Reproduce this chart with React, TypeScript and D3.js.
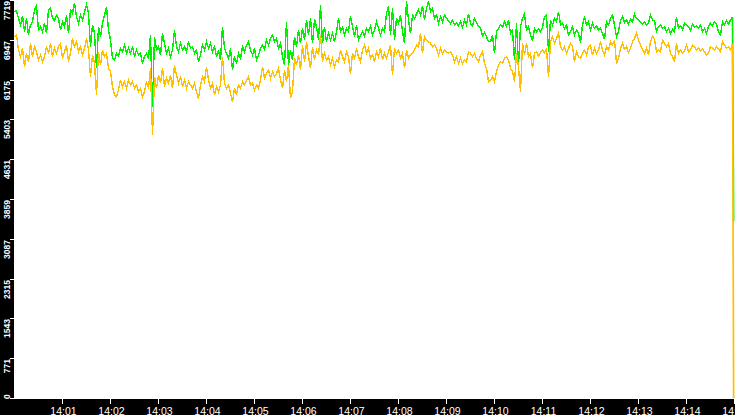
import { useEffect, useRef } from 'react';
import * as d3 from 'd3';

const WIDTH = 735;
const HEIGHT = 415;

// value axis tick labels (max / 10 steps, floored)
const yTickValues = [0, 771, 1543, 2315, 3087, 3859, 4631, 5403, 6175, 6947, 7719];
const yMax = 7719;

// minute labels along the bottom
const minuteLabels = [
    '14:01', '14:02', '14:03', '14:04', '14:05', '14:06', '14:07', '14:08',
    '14:09', '14:10', '14:11', '14:12', '14:13', '14:14', '14:15',
];

// sampling: one value every 2.5 s from 14:00:00, then one closing sample
const sampleStepMs = 2500;
const lastSampleMs = 898900;

const greenSeries = [
    7493, 7512, 7363, 7234, 7409, 7105, 7363, 7040, 7234, 7299,
    7525, 7603, 7137, 7202, 7105, 7266, 7072, 7525, 7557, 7363,
    7318, 7428, 7363, 7137, 7299, 7202, 7428, 7072, 7525, 7460,
    7667, 7396, 7266, 7428, 7331, 7493, 7628, 7460, 6814, 7234,
    7072, 6393, 7202, 7008, 7266, 7428, 7590, 7137, 6943, 6587,
    6555, 6684, 6633, 6781, 6717, 6846, 6684, 6781, 6684, 6814,
    6620, 6749, 6652, 6684, 6490, 6620, 6684, 6587, 7040, 5650,
    7008, 6749, 6814, 6652, 7072, 6878, 6684, 6781, 6620, 6749,
    7137, 6814, 6717, 6878, 6749, 6814, 6717, 6911, 6781, 6814,
    6684, 6749, 6523, 6652, 6846, 6749, 6911, 6781, 6878, 6717,
    6814, 6620, 6749, 6555, 7202, 6781, 6684, 6587, 6781, 6361,
    6620, 6490, 6684, 6587, 6814, 6717, 6846, 6911,
    6749, 6652, 6781, 6555, 6652, 6781, 6846, 6762, 6943, 6846,
    6975, 7040, 6911, 6975, 6781, 6878, 6620, 6458, 7299, 6458,
    6749, 6555, 7008, 6814, 7137, 6878, 7169, 6943, 7331, 7040,
    7363, 6878, 7344, 7202, 6943, 7622, 6878, 7202, 6911, 7072,
    6943, 7072, 6911, 7105, 7363, 7105, 7189, 7040, 7169, 7105,
    7409, 7202, 7008, 7234, 6943, 7040, 7105, 7021, 7169, 7105,
    7215, 7040, 7137, 7299, 7169, 7040, 7169, 7105, 7460, 7603,
    7040, 7557, 6943, 7363, 7266, 7428, 7105, 6878, 7700, 7331,
    7072, 7428, 7363, 7447, 7525, 7428, 7603, 7331, 7557, 7687,
    7493, 7557, 7363, 7428, 7266, 7396, 7299, 7428, 7363, 7318,
    7266, 7331, 7234, 7279, 7215, 7299, 7189, 7331, 7234, 7447,
    7266, 7215, 7363, 7279, 7215, 7169, 7021, 7085, 7008, 6911,
    6911, 7040, 6684, 7105, 7169, 7234, 7189, 7299, 7215, 7331,
    7072, 7137, 6555, 7266, 6458, 7202, 7363, 7447, 7137, 7202,
    7040, 6930, 7169, 7105, 7150, 7105, 7189, 7396, 7428, 6717,
    7331, 7234, 7363, 7299, 7493, 7234, 7266, 7169, 7234, 7040,
    7105, 7202, 7040, 7137, 7072, 6891, 7234, 7396, 7234, 7299,
    7137, 7266, 7169, 7215, 7137, 7169, 7072, 6956, 7299, 7234,
    7363, 7428, 7234, 7008, 7105, 7331, 7396, 7279, 7331, 7253,
    7344, 7299, 7447, 7363, 7331, 7299, 7253, 7299, 7234, 7266,
    7428, 7331, 7318, 7105, 7202, 7234, 7169, 7202, 7105, 7169,
    7072, 7150, 7105, 7383, 7169, 7215, 7150, 7266, 7234, 7202,
    7124, 7253, 7189, 7215, 7169, 7234, 7105, 7169, 7072, 7215,
    7266, 7215, 7299, 7253, 7105, 7040, 7299, 7234, 7318, 7253,
    7331, 7383,
    3430,
];

const yellowSeries = [
    7008, 7040, 6749, 6620, 6781, 6426, 6684, 6523, 6878, 6620,
    6814, 6717, 6555, 6652, 6523, 6620, 6814, 6684, 6878, 6620,
    6781, 6684, 6814, 6878, 6587, 6717, 6846, 6523, 6684, 6975,
    6814, 6911, 6717, 6814, 6652, 6781, 6975, 6749, 6232, 6652,
    6490, 5876, 6717, 6458, 6749, 6620, 6684, 6393, 6329, 6038,
    5876, 5844, 5973, 6167, 6038, 6135, 6005, 6167, 6070, 6135,
    6005, 6070, 5941, 6005, 5844, 5941, 6135, 6005, 6393, 5100,
    6232, 6005, 6264, 6102, 6393, 6038, 6199, 6102, 6264, 6005,
    6458, 6264, 6102, 6232, 6038, 6167, 6005, 6135, 6070, 6005,
    6102, 5941, 5811, 6070, 6232, 6135, 6426, 6167, 6005, 6102,
    5876, 6038, 5941, 6070, 6620, 6102, 6005, 6070, 5908, 5747,
    6005, 5876, 6070, 6005, 6135, 6070, 6167, 6232,
    6070, 6102, 5973, 6070, 6005, 6167, 6426, 6199, 6296, 6361,
    6199, 6329, 6232, 6296, 6393, 6167, 6005, 6361, 6135, 6458,
    5811, 5941, 6587, 6458, 6652, 6361, 6846, 6523, 6911, 6620,
    6393, 6814, 6555, 6749, 6652, 7040, 6523, 6684, 6555, 6620,
    6458, 6587, 6426, 6555, 6523, 6749, 6620, 6523, 6717, 6620,
    6283, 6684, 6587, 6781, 6620, 6523, 6749, 6846, 6684, 6781,
    6587, 6652, 6523, 6717, 6620, 6781, 6555, 6684, 6587, 6717,
    6846, 6264, 6781, 6684, 6749, 6587, 6684, 6393, 6749, 6587,
    6652, 6684, 6749, 6846, 6814, 7072, 6684, 7008, 6943, 6911,
    6878, 6814, 6846, 6781, 6652, 6781, 6684, 6749, 6717, 6684,
    6717, 6652, 6523, 6620, 6490, 6587, 6490, 6555, 6523, 6717,
    6684, 6620, 6684, 6587, 6523, 6652, 6717, 6490, 6393, 6135,
    6167, 6232, 6135, 6329, 6458, 6523, 6490, 6587, 6620, 6555,
    6393, 6329, 6135, 6684, 6426, 5941, 6878, 6652, 6878, 6620,
    6684, 6393, 6684, 6717, 6633, 6697, 6749, 6697, 6781, 6219,
    6911, 7008, 6878, 6975, 7072, 6814, 6749, 6814, 6684, 6781,
    6878, 6814, 6523, 6717, 6620, 6587, 6684, 6749, 6652, 6814,
    6846, 6652, 6781, 6684, 6749, 6911, 6749, 6652, 6814, 6749,
    6911, 6846, 6943, 6490, 6587, 6781, 6878, 6762, 6814, 6697,
    6781, 6911, 6975, 7072, 6943, 6846, 6749, 6684, 6781, 6652,
    6911, 7021, 6956, 6717, 6749, 6717, 6943, 6878, 6814, 6878,
    6684, 6620, 6523, 6878, 6684, 6749, 6684, 6736, 6846, 6717,
    6749, 6846, 6814, 6749, 6781, 6736, 6762, 6717, 6652, 6684,
    6814, 6781, 6749, 6814, 6762, 6717, 6911, 6846, 6781, 6814,
    6749, 6865,
    0,
];

const seriesColors = ['#00f000', '#ffc000'];

export default function App() {
    const svgRef = useRef<SVGSVGElement>(null);

    useEffect(() => {
        if (!svgRef.current) return;
        const svg = d3.select(svgRef.current);
        svg.selectAll('*').remove();

        const start = new Date(2024, 0, 1, 14, 0, 0);
        const end = new Date(2024, 0, 1, 14, 15, 0);
        const plotLeft = 14;
        const plotBottom = 399;

        const x = d3.scaleTime().domain([start, end]).range([14.5, 734.5]);
        const y = d3.scaleLinear().domain([0, yMax]).range([398, 0]);

        const n = greenSeries.length;
        const timeAt = (i: number) =>
            new Date(start.getTime() + (i === n - 1 ? lastSampleMs : i * sampleStepMs));

        svg.append('rect')
            .attr('width', WIDTH)
            .attr('height', HEIGHT)
            .attr('fill', '#ffffff');

        // Lines (aliased, like the original pixel plot); the closing drop
        // is stroked separately since aliased hairlines lose it at the edge
        const line = d3.line<[number, number]>()
            .x(d => x(timeAt(d[0])))
            .y(d => y(d[1]));

        [greenSeries, yellowSeries].forEach((series, k) => {
            const pts = series.map((v, i) => [i, v] as [number, number]);
            svg.append('path')
                .datum(pts.slice(0, n - 1))
                .attr('d', line)
                .attr('fill', 'none')
                .attr('stroke', seriesColors[k])
                .attr('stroke-width', 1.4)
                .attr('stroke-linejoin', 'miter')
                .attr('shape-rendering', 'crispEdges');
            svg.append('path')
                .datum(pts.slice(n - 2))
                .attr('d', line)
                .attr('fill', 'none')
                .attr('stroke', seriesColors[k])
                .attr('stroke-width', 1.7);
        });

        // Black axis strips
        svg.append('rect')
            .attr('x', 0).attr('y', 0)
            .attr('width', plotLeft).attr('height', HEIGHT)
            .attr('fill', '#000');
        svg.append('rect')
            .attr('x', 0).attr('y', plotBottom)
            .attr('width', WIDTH).attr('height', HEIGHT - plotBottom)
            .attr('fill', '#000');

        // Value axis
        const yAxis = svg.append('g')
            .attr('font-family', '"Liberation Sans", Arial, sans-serif')
            .attr('font-size', 8.5)
            .attr('font-weight', 'bold')
            .attr('fill', '#fff');

        yTickValues.forEach(v => {
            const py = Math.round(y(v));
            yAxis.append('line')
                .attr('x1', 10).attr('x2', 15)
                .attr('y1', py + 0.5).attr('y2', py + 0.5)
                .attr('stroke', '#fff')
                .attr('shape-rendering', 'crispEdges');
            const atBottom = py + 18 > plotBottom;
            yAxis.append('text')
                .attr('transform', `translate(10,${atBottom ? plotBottom : py + 1}) rotate(-90)`)
                .attr('text-anchor', atBottom ? 'start' : 'end')
                .text(String(v));
        });

        // Time axis
        const xAxis = svg.append('g')
            .attr('font-family', '"Liberation Sans", Arial, sans-serif')
            .attr('font-size', 10.5)
            .attr('fill', '#fff');

        minuteLabels.forEach((label, i) => {
            const t = new Date(start.getTime() + (i + 1) * 60000);
            const px = Math.floor(x(t));
            xAxis.append('line')
                .attr('x1', px + 0.5).attr('x2', px + 0.5)
                .attr('y1', plotBottom).attr('y2', plotBottom + 5)
                .attr('stroke', '#fff')
                .attr('shape-rendering', 'crispEdges');
            xAxis.append('text')
                .attr('x', px + 1.5)
                .attr('y', 414.5)
                .attr('text-anchor', 'middle')
                .text(label);
        });
    }, []);

    return (
        <div style={{ position: 'absolute', left: 0, top: 0 }}>
            <svg ref={svgRef} width={WIDTH} height={HEIGHT} style={{ display: 'block' }} />
        </div>
    );
}
